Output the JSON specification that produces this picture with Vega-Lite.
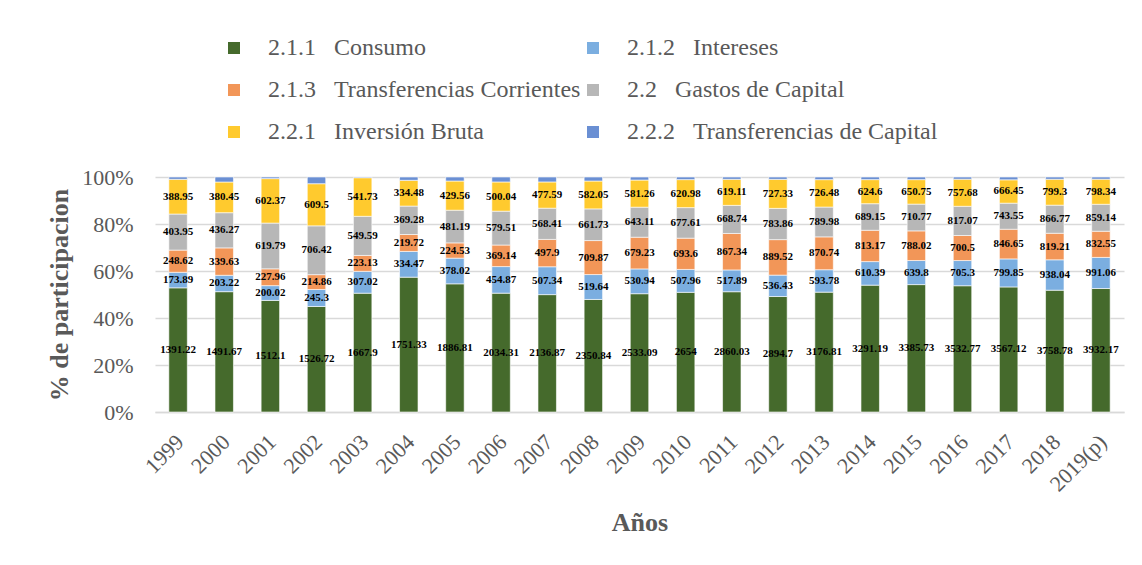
{
  "$schema": "https://vega.github.io/schema/vega-lite/v6.json",
  "width": 969,
  "height": 235,
  "autosize": {"type": "none"},
  "padding": {"left": 155, "top": 177, "right": 18, "bottom": 153},
  "background": "white",
  "config": {
    "font": "Liberation Serif",
    "view": {"stroke": null},
    "axis": {"labelFont": "Liberation Serif", "titleFont": "Liberation Serif"}
  },
  "data": {
    "values": [
      {"year": "1999", "serie": "2.1.1 Consumo", "value": 1391.22},
      {"year": "1999", "serie": "2.1.2 Intereses", "value": 173.89},
      {"year": "1999", "serie": "2.1.3 Transferencias Corrientes", "value": 248.62},
      {"year": "1999", "serie": "2.2 Gastos de Capital", "value": 403.95},
      {"year": "1999", "serie": "2.2.1 Inversión Bruta", "value": 388.95},
      {"year": "1999", "serie": "2.2.2 Transferencias de Capital", "value": 26},
      {"year": "2000", "serie": "2.1.1 Consumo", "value": 1491.67},
      {"year": "2000", "serie": "2.1.2 Intereses", "value": 203.22},
      {"year": "2000", "serie": "2.1.3 Transferencias Corrientes", "value": 339.63},
      {"year": "2000", "serie": "2.2 Gastos de Capital", "value": 436.27},
      {"year": "2000", "serie": "2.2.1 Inversión Bruta", "value": 380.45},
      {"year": "2000", "serie": "2.2.2 Transferencias de Capital", "value": 62},
      {"year": "2001", "serie": "2.1.1 Consumo", "value": 1512.1},
      {"year": "2001", "serie": "2.1.2 Intereses", "value": 200.02},
      {"year": "2001", "serie": "2.1.3 Transferencias Corrientes", "value": 227.96},
      {"year": "2001", "serie": "2.2 Gastos de Capital", "value": 619.79},
      {"year": "2001", "serie": "2.2.1 Inversión Bruta", "value": 602.37},
      {"year": "2001", "serie": "2.2.2 Transferencias de Capital", "value": 22},
      {"year": "2002", "serie": "2.1.1 Consumo", "value": 1526.72},
      {"year": "2002", "serie": "2.1.2 Intereses", "value": 245.3},
      {"year": "2002", "serie": "2.1.3 Transferencias Corrientes", "value": 214.86},
      {"year": "2002", "serie": "2.2 Gastos de Capital", "value": 706.42},
      {"year": "2002", "serie": "2.2.1 Inversión Bruta", "value": 609.5},
      {"year": "2002", "serie": "2.2.2 Transferencias de Capital", "value": 97},
      {"year": "2003", "serie": "2.1.1 Consumo", "value": 1667.9},
      {"year": "2003", "serie": "2.1.2 Intereses", "value": 307.02},
      {"year": "2003", "serie": "2.1.3 Transferencias Corrientes", "value": 223.13},
      {"year": "2003", "serie": "2.2 Gastos de Capital", "value": 549.59},
      {"year": "2003", "serie": "2.2.1 Inversión Bruta", "value": 541.73},
      {"year": "2003", "serie": "2.2.2 Transferencias de Capital", "value": 10},
      {"year": "2004", "serie": "2.1.1 Consumo", "value": 1751.33},
      {"year": "2004", "serie": "2.1.2 Intereses", "value": 334.47},
      {"year": "2004", "serie": "2.1.3 Transferencias Corrientes", "value": 219.72},
      {"year": "2004", "serie": "2.2 Gastos de Capital", "value": 369.28},
      {"year": "2004", "serie": "2.2.1 Inversión Bruta", "value": 334.48},
      {"year": "2004", "serie": "2.2.2 Transferencias de Capital", "value": 43},
      {"year": "2005", "serie": "2.1.1 Consumo", "value": 1886.81},
      {"year": "2005", "serie": "2.1.2 Intereses", "value": 378.02},
      {"year": "2005", "serie": "2.1.3 Transferencias Corrientes", "value": 224.53},
      {"year": "2005", "serie": "2.2 Gastos de Capital", "value": 481.19},
      {"year": "2005", "serie": "2.2.1 Inversión Bruta", "value": 429.56},
      {"year": "2005", "serie": "2.2.2 Transferencias de Capital", "value": 59},
      {"year": "2006", "serie": "2.1.1 Consumo", "value": 2034.31},
      {"year": "2006", "serie": "2.1.2 Intereses", "value": 454.87},
      {"year": "2006", "serie": "2.1.3 Transferencias Corrientes", "value": 369.14},
      {"year": "2006", "serie": "2.2 Gastos de Capital", "value": 579.51},
      {"year": "2006", "serie": "2.2.1 Inversión Bruta", "value": 500.04},
      {"year": "2006", "serie": "2.2.2 Transferencias de Capital", "value": 85},
      {"year": "2007", "serie": "2.1.1 Consumo", "value": 2136.87},
      {"year": "2007", "serie": "2.1.2 Intereses", "value": 507.34},
      {"year": "2007", "serie": "2.1.3 Transferencias Corrientes", "value": 497.9},
      {"year": "2007", "serie": "2.2 Gastos de Capital", "value": 568.41},
      {"year": "2007", "serie": "2.2.1 Inversión Bruta", "value": 477.59},
      {"year": "2007", "serie": "2.2.2 Transferencias de Capital", "value": 90},
      {"year": "2008", "serie": "2.1.1 Consumo", "value": 2350.84},
      {"year": "2008", "serie": "2.1.2 Intereses", "value": 519.64},
      {"year": "2008", "serie": "2.1.3 Transferencias Corrientes", "value": 709.87},
      {"year": "2008", "serie": "2.2 Gastos de Capital", "value": 661.73},
      {"year": "2008", "serie": "2.2.1 Inversión Bruta", "value": 582.05},
      {"year": "2008", "serie": "2.2.2 Transferencias de Capital", "value": 84},
      {"year": "2009", "serie": "2.1.1 Consumo", "value": 2533.09},
      {"year": "2009", "serie": "2.1.2 Intereses", "value": 530.94},
      {"year": "2009", "serie": "2.1.3 Transferencias Corrientes", "value": 679.23},
      {"year": "2009", "serie": "2.2 Gastos de Capital", "value": 643.11},
      {"year": "2009", "serie": "2.2.1 Inversión Bruta", "value": 581.26},
      {"year": "2009", "serie": "2.2.2 Transferencias de Capital", "value": 65},
      {"year": "2010", "serie": "2.1.1 Consumo", "value": 2654},
      {"year": "2010", "serie": "2.1.2 Intereses", "value": 507.96},
      {"year": "2010", "serie": "2.1.3 Transferencias Corrientes", "value": 693.6},
      {"year": "2010", "serie": "2.2 Gastos de Capital", "value": 677.61},
      {"year": "2010", "serie": "2.2.1 Inversión Bruta", "value": 620.98},
      {"year": "2010", "serie": "2.2.2 Transferencias de Capital", "value": 58},
      {"year": "2011", "serie": "2.1.1 Consumo", "value": 2860.03},
      {"year": "2011", "serie": "2.1.2 Intereses", "value": 517.89},
      {"year": "2011", "serie": "2.1.3 Transferencias Corrientes", "value": 867.34},
      {"year": "2011", "serie": "2.2 Gastos de Capital", "value": 668.74},
      {"year": "2011", "serie": "2.2.1 Inversión Bruta", "value": 619.11},
      {"year": "2011", "serie": "2.2.2 Transferencias de Capital", "value": 55},
      {"year": "2012", "serie": "2.1.1 Consumo", "value": 2894.7},
      {"year": "2012", "serie": "2.1.2 Intereses", "value": 536.43},
      {"year": "2012", "serie": "2.1.3 Transferencias Corrientes", "value": 889.52},
      {"year": "2012", "serie": "2.2 Gastos de Capital", "value": 783.86},
      {"year": "2012", "serie": "2.2.1 Inversión Bruta", "value": 727.33},
      {"year": "2012", "serie": "2.2.2 Transferencias de Capital", "value": 59},
      {"year": "2013", "serie": "2.1.1 Consumo", "value": 3176.81},
      {"year": "2013", "serie": "2.1.2 Intereses", "value": 593.78},
      {"year": "2013", "serie": "2.1.3 Transferencias Corrientes", "value": 870.74},
      {"year": "2013", "serie": "2.2 Gastos de Capital", "value": 789.98},
      {"year": "2013", "serie": "2.2.1 Inversión Bruta", "value": 726.48},
      {"year": "2013", "serie": "2.2.2 Transferencias de Capital", "value": 70},
      {"year": "2014", "serie": "2.1.1 Consumo", "value": 3291.19},
      {"year": "2014", "serie": "2.1.2 Intereses", "value": 610.39},
      {"year": "2014", "serie": "2.1.3 Transferencias Corrientes", "value": 813.17},
      {"year": "2014", "serie": "2.2 Gastos de Capital", "value": 689.15},
      {"year": "2014", "serie": "2.2.1 Inversión Bruta", "value": 624.6},
      {"year": "2014", "serie": "2.2.2 Transferencias de Capital", "value": 68},
      {"year": "2015", "serie": "2.1.1 Consumo", "value": 3385.73},
      {"year": "2015", "serie": "2.1.2 Intereses", "value": 639.8},
      {"year": "2015", "serie": "2.1.3 Transferencias Corrientes", "value": 788.02},
      {"year": "2015", "serie": "2.2 Gastos de Capital", "value": 710.77},
      {"year": "2015", "serie": "2.2.1 Inversión Bruta", "value": 650.75},
      {"year": "2015", "serie": "2.2.2 Transferencias de Capital", "value": 70},
      {"year": "2016", "serie": "2.1.1 Consumo", "value": 3532.77},
      {"year": "2016", "serie": "2.1.2 Intereses", "value": 705.3},
      {"year": "2016", "serie": "2.1.3 Transferencias Corrientes", "value": 700.5},
      {"year": "2016", "serie": "2.2 Gastos de Capital", "value": 817.07},
      {"year": "2016", "serie": "2.2.1 Inversión Bruta", "value": 757.68},
      {"year": "2016", "serie": "2.2.2 Transferencias de Capital", "value": 62},
      {"year": "2017", "serie": "2.1.1 Consumo", "value": 3567.12},
      {"year": "2017", "serie": "2.1.2 Intereses", "value": 799.85},
      {"year": "2017", "serie": "2.1.3 Transferencias Corrientes", "value": 846.65},
      {"year": "2017", "serie": "2.2 Gastos de Capital", "value": 743.55},
      {"year": "2017", "serie": "2.2.1 Inversión Bruta", "value": 666.45},
      {"year": "2017", "serie": "2.2.2 Transferencias de Capital", "value": 80},
      {"year": "2018", "serie": "2.1.1 Consumo", "value": 3758.78},
      {"year": "2018", "serie": "2.1.2 Intereses", "value": 938.04},
      {"year": "2018", "serie": "2.1.3 Transferencias Corrientes", "value": 819.21},
      {"year": "2018", "serie": "2.2 Gastos de Capital", "value": 866.77},
      {"year": "2018", "serie": "2.2.1 Inversión Bruta", "value": 799.3},
      {"year": "2018", "serie": "2.2.2 Transferencias de Capital", "value": 70},
      {"year": "2019(p)", "serie": "2.1.1 Consumo", "value": 3932.17},
      {"year": "2019(p)", "serie": "2.1.2 Intereses", "value": 991.06},
      {"year": "2019(p)", "serie": "2.1.3 Transferencias Corrientes", "value": 832.55},
      {"year": "2019(p)", "serie": "2.2 Gastos de Capital", "value": 859.14},
      {"year": "2019(p)", "serie": "2.2.1 Inversión Bruta", "value": 798.34},
      {"year": "2019(p)", "serie": "2.2.2 Transferencias de Capital", "value": 70}
    ]
  },
  "transform": [
    {"stack": "value", "groupby": ["year"], "sort": [{"field": "serie", "order": "ascending"}], "offset": "normalize", "as": ["y0", "y1"]},
    {"calculate": "(datum.y0 + datum.y1) / 2", "as": "ymid"}
  ],
  "layer": [
    {
      "mark": {"type": "bar", "stroke": "white", "strokeWidth": 0.6},
      "encoding": {
        "x": {
          "field": "year", "type": "nominal", "sort": null,
          "scale": {"paddingInner": 0.6, "paddingOuter": 0.3},
          "axis": {
            "title": "Años", "titleFontSize": 26, "titleFontWeight": "bold", "titleColor": "#595959",
            "titlePadding": 14,
            "labelAngle": -45, "labelFontSize": 22, "labelColor": "#595959", "labelPadding": 19,
            "labelOffset": -5, "labelOverlap": false,
            "ticks": false, "domainColor": "#d9d9d9", "domainWidth": 1.5
          }
        },
        "y": {
          "field": "y0", "type": "quantitative",
          "scale": {"domain": [0, 1]},
          "axis": {
            "title": "% de participacion", "titleFontSize": 26, "titleFontWeight": "bold", "titleColor": "#595959",
            "titlePadding": 9,
            "format": ".0%", "values": [0, 0.2, 0.4, 0.6, 0.8, 1],
            "labelFontSize": 22, "labelColor": "#595959", "labelPadding": 22,
            "labelOverlap": false, "labelBound": false, "labelFlush": false,
            "ticks": false, "domain": false, "gridColor": "#d9d9d9", "gridWidth": 1.5
          }
        },
        "y2": {"field": "y1"},
        "color": {
          "field": "serie", "type": "nominal",
          "scale": {
            "domain": ["2.1.1 Consumo", "2.1.3 Transferencias Corrientes", "2.2.1 Inversión Bruta", "2.1.2 Intereses", "2.2 Gastos de Capital", "2.2.2 Transferencias de Capital"],
            "range": ["#456a2c", "#f29658", "#ffca2e", "#7baee0", "#b7b7b7", "#6a8fd3"]
          },
          "legend": {
            "title": null, "orient": "none", "legendX": 67, "legendY": -141,
            "columns": 2, "columnPadding": -2, "rowPadding": 18,
            "symbolType": "square", "symbolSize": 144, "symbolStrokeWidth": 0,
            "labelFontSize": 24, "labelColor": "#595959", "labelOffset": 22, "labelLimit": 600,
            "labelExpr": "replace(datum.label, ' ', '\u00a0\u00a0\u00a0')"
          }
        }
      }
    },
    {
      "transform": [{"filter": "datum.serie != '2.2.2 Transferencias de Capital'"}],
      "mark": {"type": "text", "fontWeight": "bold", "fontSize": 11, "color": "black", "font": "Liberation Serif"},
      "encoding": {
        "x": {"field": "year", "type": "nominal", "sort": null},
        "y": {"field": "ymid", "type": "quantitative"},
        "text": {"field": "value", "type": "quantitative"}
      }
    }
  ]
}
